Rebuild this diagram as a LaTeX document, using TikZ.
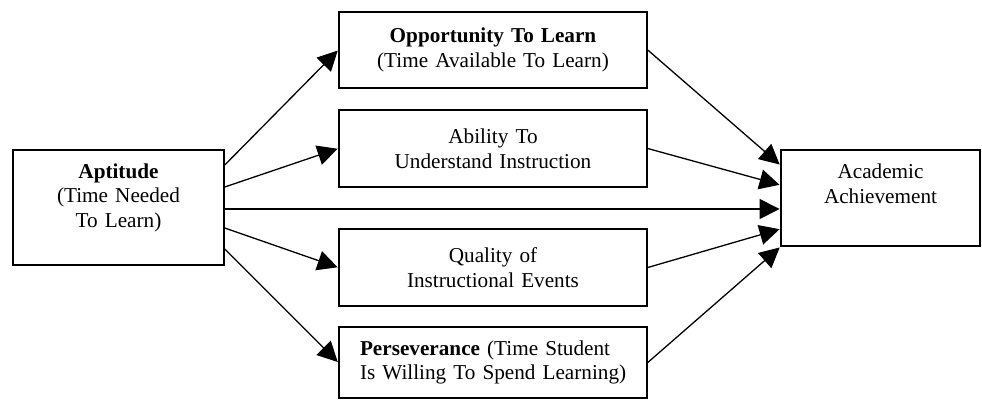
\documentclass[tikz,border=0pt]{standalone}
\usepackage{fontspec}
\setmainfont{Liberation Serif}
\usetikzlibrary{arrows.meta}

\begin{document}
\begin{tikzpicture}[x=1pt, y=-1pt,
every node/.style = {shape=rectangle, draw, line width=1.5pt, align=center,
  inner xsep=6pt, inner ysep=0pt, font=\fontsize{21.2}{24.8}\selectfont},
mid/.style={text width=296pt, minimum height=77pt},
link/.style={draw, line width=1.3pt, shorten >=0.7pt, -{Triangle[length=20pt,width=20pt]}}]
%
\useasboundingbox (0,0) rectangle (982,400);
\node[text width=199pt, minimum height=115pt] (aptitude) at (118.5,207.5)
	{\textbf{Aptitude}\\(Time Needed\\To Learn)\\[-1pt]\mbox{}};
\node[mid, minimum height=76pt] (opportunity) at (493,50)
	{\textbf{Opportunity To Learn}\\(Time Available To Learn)};
\node[mid] (ability) at (493,148.5) {Ability To\\Understand Instruction};
\node[mid] (quality) at (493,267.5) {Quality of\\Instructional Events};
\node[mid, minimum height=71pt, align=left, inner xsep=21pt, text width=266pt] (perseverance) at (493,362.5)
	{\mbox{\textbf{Perseverance} (Time Student}\\\mbox{Is Willing To Spend Learning)}};
\node[text width=187pt, minimum height=96pt] (achievement) at (880.5,198)
	{Academic\\Achievement\\[4pt]\mbox{}};
%
\coordinate (direct) at ([yshift=-11pt]achievement.west);
\draw[link] ([yshift=42.5pt]aptitude.east) -- (opportunity.west);
\draw[link] ([yshift=20.5pt]aptitude.east) -- (ability.west);
\draw[link] (aptitude.east |- direct) -- (direct);
\draw[link] ([yshift=-20.5pt]aptitude.east) -- (quality.west);
\draw[link] ([yshift=-41.5pt]aptitude.east) -- (perseverance.west);
%
\draw[link] (opportunity.east) -- ([yshift=33pt]achievement.west);
\draw[link] (ability.east) -- ([yshift=13pt]achievement.west);
\draw[link] (quality.east) -- ([yshift=-31pt]achievement.west);
\draw[link] (perseverance.east) -- ([yshift=-49pt]achievement.west);
\end{tikzpicture}
\end{document}
